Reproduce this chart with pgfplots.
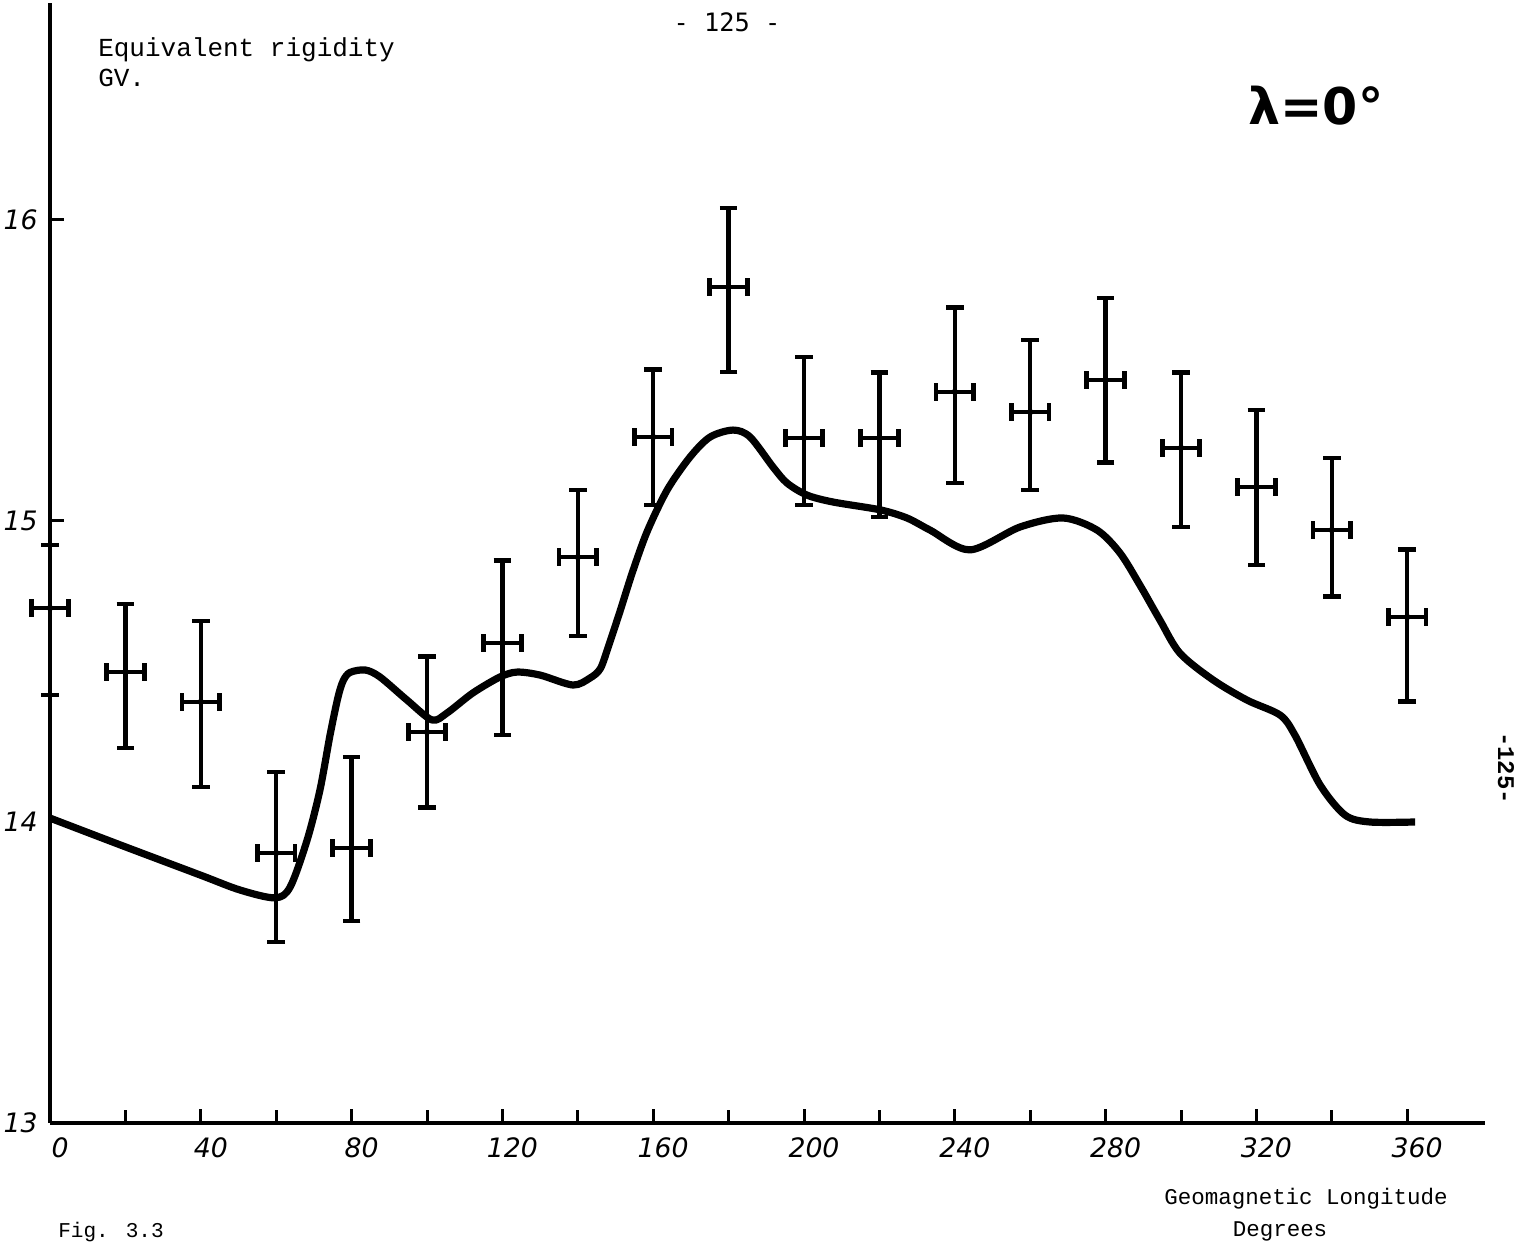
\documentclass[border=0pt]{standalone}
\usepackage{fontspec}
\usepackage{pgfplots}
\pgfplotsset{compat=1.18}
\usepackage{pgfplotstable}

\newfontfamily\typefont{Liberation Mono}
\newfontfamily\handfont{DejaVu Sans}
\newfontfamily\stampfont{DejaVu Sans Mono}

% Measured equivalent rigidity (GV) with asymmetric vertical errors
\pgfplotstableread{
x   y      ep     em
0   14.711 0.209  0.289
20  14.498 0.226  0.252
40  14.399 0.269  0.283
60  13.897 0.269  0.296
80  13.914 0.302  0.243
100 14.299 0.252  0.252
120 14.595 0.275  0.306
140 14.880 0.223  0.262
160 15.279 0.223  0.226
180 15.777 0.263  0.282
200 15.276 0.269  0.223
220 15.276 0.216  0.263
240 15.429 0.279  0.303
260 15.362 0.239  0.259
280 15.468 0.273  0.275
300 15.243 0.249  0.263
320 15.113 0.256  0.259
340 14.970 0.239  0.222
360 14.681 0.223  0.282
}\points

% Calculated rigidity along the equator
\pgfplotstableread{
x     y
0     14.013
18.6  13.924
39.8  13.824
50.4  13.774
59.7  13.748
63.7  13.784
68.2  13.940
71.6  14.106
74.3  14.290
76.4  14.415
77.8  14.470
79.6  14.497
83.6  14.505
87.5  14.482
94.7  14.405
101.3 14.339
105.3 14.362
112.2 14.429
119.4 14.482
123.9 14.498
130.0 14.488
138.7 14.455
143.2 14.478
146.0 14.510
148.3 14.590
151.2 14.700
154.5 14.830
158.4 14.965
163.7 15.103
169.8 15.213
175.1 15.279
181.2 15.302
185.7 15.279
191.8 15.179
195.5 15.126
200.8 15.086
207.7 15.063
220.2 15.037
227.3 15.010
233.4 14.970
244.0 14.904
257.3 14.980
268.7 15.010
277.7 14.970
283.8 14.894
289.1 14.787
294.4 14.671
299.7 14.561
308.5 14.472
317.5 14.405
326.3 14.355
330.2 14.289
336.9 14.123
343.5 14.023
350.1 14.000
362.1 14.000
}\curve

\begin{document}
\begin{tikzpicture}[line cap=round, line join=round]
\begin{axis}[
  at={(12.5mm,30.25mm)}, anchor=south west,
  x=0.9425mm, y=75.25mm,
  xmin=0, xmax=380.6, ymin=13, ymax=16.72,
  axis lines=left,
  axis line style={-, line width=1.2mm, black},
  clip=false,
  tick align=inside,
  xtick={0,40,...,360},
  minor xtick={20,60,...,340},
  xticklabels={0,40,80,120,160,200,240,280,320,360},
  ytick={13,14,15,16},
  yticklabels={13,14,15,16},
  major tick length=3.5mm, minor tick length=3.2mm,
  tick style={line width=0.75mm, black},
  minor tick style={line width=0.75mm, black},
  x tick label style={font=\handfont\itshape\fontsize{19}{19}\selectfont,
    anchor=north, inner sep=0pt, yshift=-3.5mm, xshift=2.5mm},
  y tick label style={font=\handfont\itshape\fontsize{19}{19}\selectfont,
    anchor=east, inner sep=0pt, xshift=-3mm},
]
\addplot[black, line width=1.8mm, smooth, tension=0.5] table[x=x, y=y]{\curve};
\addplot[black, only marks, mark=none,
  error bars/.cd,
    x dir=both, x fixed=5,
    y dir=both, y explicit,
    error bar style={line width=1.1mm, black},
    error mark options={rotate=90, mark size=2.2mm, line width=1.2mm, black}]
  table[x=x, y=y, y error plus=ep, y error minus=em]{\points};
\end{axis}

\node[anchor=base west, inner sep=0pt, font=\typefont\fontsize{18.5}{18.5}\selectfont]
  at (24.5mm,296.75mm) {Equivalent rigidity};
\node[anchor=base west, inner sep=0pt, font=\typefont\fontsize{18.5}{18.5}\selectfont]
  at (24.5mm,289.25mm) {GV.};
\node[anchor=base, inner sep=0pt, font=\stampfont\fontsize{18}{18}\selectfont]
  at (181.75mm,303mm) {- 125 -};
\node[anchor=base, inner sep=0pt, font=\handfont\bfseries\fontsize{36}{36}\selectfont]
  at (329mm,279.75mm) {λ=0°};
\node[anchor=base, inner sep=0pt, font=\typefont\fontsize{16}{16}\selectfont]
  at (326.5mm,9.75mm) {Geomagnetic Longitude};
\node[anchor=base, inner sep=0pt, font=\typefont\fontsize{16}{16}\selectfont]
  at (320mm,1.75mm) {Degrees};
\node[rotate=-90, inner sep=0pt, font=\typefont\bfseries\fontsize{17}{17}\selectfont]
  at (376.5mm,119mm) {-125-};
\node[anchor=base west, inner sep=0pt, font=\typefont\fontsize{15}{15}\selectfont]
  at (14.5mm,1.6mm) {Fig. 3.3};

\pgfresetboundingbox
\path[use as bounding box] (0,0) rectangle (379mm,311mm);
\end{tikzpicture}
\end{document}
